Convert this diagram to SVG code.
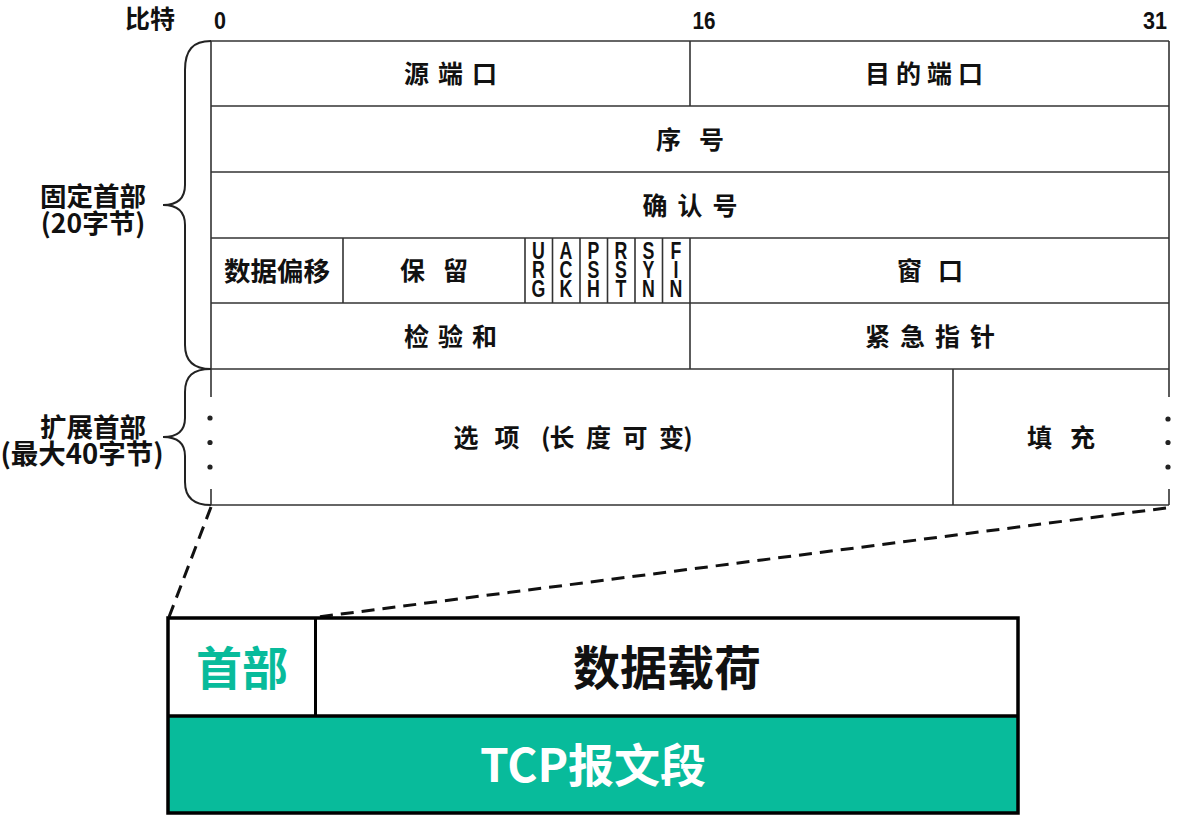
<svg xmlns="http://www.w3.org/2000/svg" width="1182" height="822" viewBox="0 0 1182 822">
<style>
.ln{stroke:#333;stroke-width:1.6;fill:none}
.br{stroke:#222;stroke-width:2;fill:none}
.cj{font-family:"Noto Sans CJK SC","Liberation Sans",sans-serif;font-weight:bold;fill:#111;text-anchor:middle}
.c25{font-size:25px}
.c27{font-size:26.5px}
.num{font-family:"Liberation Sans Narrow","Liberation Sans",sans-serif;font-weight:bold;font-size:23px;fill:#111;text-anchor:middle}
.fl{font-family:"Liberation Sans",sans-serif;font-weight:bold;font-size:24px;fill:#111;text-anchor:middle}
.dash{stroke:#111;stroke-width:3;stroke-dasharray:13 8;fill:none}
.dot{fill:#222}
</style>
<rect width="1182" height="822" fill="#fff"/>

<g id="bit-ruler">
<text class="cj" x="150" y="28" style="font-size:25px">比特</text>
<text class="num" x="220" y="29" textLength="12" lengthAdjust="spacingAndGlyphs">0</text>
<text class="num" x="704" y="29" textLength="23" lengthAdjust="spacingAndGlyphs">16</text>
<text class="num" x="1155" y="29" textLength="24" lengthAdjust="spacingAndGlyphs">31</text>
</g>

<g id="table-frame">
<line class="ln" x1="211" y1="41" x2="1169" y2="41"/>
<line class="ln" x1="211" y1="106" x2="1169" y2="106"/>
<line class="ln" x1="211" y1="172" x2="1169" y2="172"/>
<line class="ln" x1="211" y1="238" x2="1169" y2="238"/>
<line class="ln" x1="211" y1="303" x2="1169" y2="303"/>
<line class="ln" x1="211" y1="369" x2="1169" y2="369"/>
<line class="ln" x1="211" y1="505" x2="1169" y2="505"/>
<line class="ln" x1="211" y1="41" x2="211" y2="397"/>
<line class="ln" x1="211" y1="489" x2="211" y2="505"/>
<line class="ln" x1="1169" y1="41" x2="1169" y2="397"/>
<line class="ln" x1="1169" y1="489" x2="1169" y2="505"/>
<line class="ln" x1="690" y1="41" x2="690" y2="106"/>
<line class="ln" x1="690" y1="238" x2="690" y2="369"/>
<line class="ln" x1="343" y1="238" x2="343" y2="303"/>
<line class="ln" x1="525" y1="238" x2="525" y2="303"/>
<line class="ln" x1="552.5" y1="238" x2="552.5" y2="303"/>
<line class="ln" x1="580" y1="238" x2="580" y2="303"/>
<line class="ln" x1="607.5" y1="238" x2="607.5" y2="303"/>
<line class="ln" x1="635" y1="238" x2="635" y2="303"/>
<line class="ln" x1="662.5" y1="238" x2="662.5" y2="303"/>
<line class="ln" x1="953" y1="369" x2="953" y2="505"/>
<circle class="dot" cx="210" cy="418" r="2.6"/>
<circle class="dot" cx="210" cy="442.5" r="2.6"/>
<circle class="dot" cx="210" cy="467" r="2.6"/>
<circle class="dot" cx="1168" cy="419" r="2.6"/>
<circle class="dot" cx="1168" cy="442.5" r="2.6"/>
<circle class="dot" cx="1168" cy="467" r="2.6"/>
</g>

<g id="src-port"><text class="cj c25" x="455" y="83" letter-spacing="9">源端口</text></g>
<g id="dst-port"><text class="cj c25" x="927" y="83" letter-spacing="6">目的端口</text></g>
<g id="seq"><text class="cj c25" x="699" y="148.5" letter-spacing="18">序号</text></g>
<g id="ack-num"><text class="cj c25" x="695" y="214.5" letter-spacing="10">确认号</text></g>
<g id="data-offset"><text class="cj" x="277" y="280.5" style="font-size:26.5px">数据偏移</text></g>
<g id="reserved"><text class="cj c25" x="443" y="280" letter-spacing="18">保留</text></g>
<g id="flags">
<text class="fl" transform="translate(538.5,0) scale(0.74,1)"><tspan x="0" y="259">U</tspan><tspan x="0" y="278">R</tspan><tspan x="0" y="297.5">G</tspan></text>
<text class="fl" transform="translate(566,0) scale(0.74,1)"><tspan x="0" y="259">A</tspan><tspan x="0" y="278">C</tspan><tspan x="0" y="297.5">K</tspan></text>
<text class="fl" transform="translate(593.5,0) scale(0.74,1)"><tspan x="0" y="259">P</tspan><tspan x="0" y="278">S</tspan><tspan x="0" y="297.5">H</tspan></text>
<text class="fl" transform="translate(621,0) scale(0.74,1)"><tspan x="0" y="259">R</tspan><tspan x="0" y="278">S</tspan><tspan x="0" y="297.5">T</tspan></text>
<text class="fl" transform="translate(648.5,0) scale(0.74,1)"><tspan x="0" y="259">S</tspan><tspan x="0" y="278">Y</tspan><tspan x="0" y="297.5">N</tspan></text>
<text class="fl" transform="translate(676,0) scale(0.74,1)"><tspan x="0" y="259">F</tspan><tspan x="0" y="278">I</tspan><tspan x="0" y="297.5">N</tspan></text>
</g>
<g id="window"><text class="cj c25" x="938" y="280" letter-spacing="16">窗口</text></g>
<g id="checksum"><text class="cj c25" x="455" y="345.5" letter-spacing="9">检验和</text></g>
<g id="urgent"><text class="cj c25" x="935" y="345.5" letter-spacing="10">紧急指针</text></g>
<g id="options"><text class="cj c25" y="447"><tspan x="466">选</tspan><tspan x="507">项</tspan><tspan x="543"> (</tspan><tspan x="562">长</tspan><tspan x="598.5">度</tspan><tspan x="635">可</tspan><tspan x="671.5">变</tspan><tspan x="688">)</tspan></text></g>
<g id="padding"><text class="cj c25" x="1070" y="447" letter-spacing="18">填充</text></g>

<g id="fixed-header-brace">
<path class="br" d="M211,41 C193,41 185,50 185,70 L185,185 C185,198 178,205 163,205 C178,205 185,212 185,225 L185,345 C185,360 193,369 211,369"/>
<text class="cj c27" x="93" y="205.5">固定首部</text>
<text class="cj c27" x="93" y="232.5">(20字节)</text>
</g>
<g id="ext-header-brace">
<path class="br" d="M211,369 C193,369 185,376 185,392 L185,418 C185,430 178,437 163,437 C178,437 185,444 185,456 L185,482 C185,497 193,505 211,505"/>
<text class="cj c27" x="93" y="437">扩展首部</text>
<text class="cj" x="82" y="464" style="font-size:27.5px">(最大40字节)</text>
</g>

<g id="connectors">
<line class="dash" x1="211" y1="507" x2="169" y2="617"/>
<line class="dash" x1="1166" y1="508" x2="318" y2="617"/>
</g>

<g id="segment">
<rect x="168" y="716" width="850" height="97" fill="#08BB9B"/>
<rect x="168" y="618" width="850" height="195" fill="none" stroke="#000" stroke-width="3.5"/>
<line x1="168" y1="716" x2="1018" y2="716" stroke="#000" stroke-width="3.5"/>
<line x1="315.5" y1="618" x2="315.5" y2="716" stroke="#000" stroke-width="3"/>
</g>
<g id="header-block"><text class="cj" x="242" y="685" style="font-size:46px;fill:#08BB9B">首部</text></g>
<g id="payload-block"><text class="cj" x="667" y="685" style="font-size:47px">数据载荷</text></g>
<g id="tcp-segment-label"><text class="cj" x="593" y="782" style="font-size:46px;fill:#fff">TCP报文段</text></g>
</svg>
